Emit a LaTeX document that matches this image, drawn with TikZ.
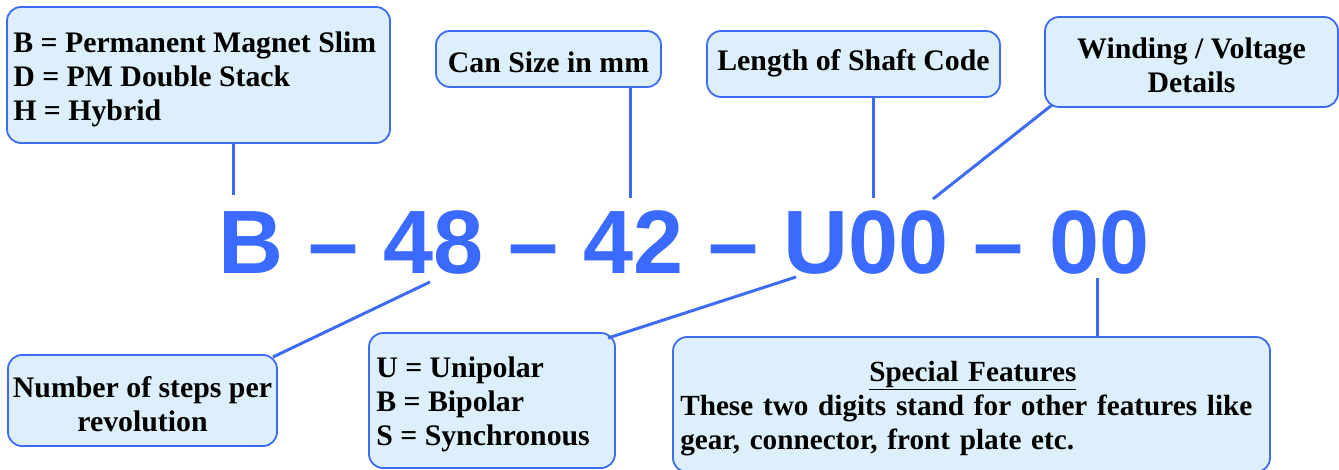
\documentclass[tikz,border=0pt]{standalone}
\usepackage{fontspec}
\setmainfont{Liberation Serif}
\newfontfamily\bigfont{Liberation Sans}
\definecolor{mblue}{HTML}{3A6AFF}
\definecolor{lineblue}{HTML}{3D6CF2}
\definecolor{boxfill}{HTML}{DDEFFA}
\begin{document}
\begin{tikzpicture}[x=1pt,y=-1pt,
  box/.style={draw=lineblue, line width=1.8pt, fill=boxfill, rounded corners=14pt, inner sep=0pt},
  txt/.style={inner sep=0pt, font=\fontsize{29.8}{34}\selectfont\bfseries},
  conn/.style={draw=lineblue, line width=3pt},
  big/.style={font=\bigfont\fontsize{90}{100}\selectfont\bfseries, text=mblue, inner sep=0pt}]
\useasboundingbox (0,0) rectangle (1339,470);
% boxes
\node[box, minimum width=383, minimum height=136] (b1) at (198.5,75) {};
\node[box, minimum width=225, minimum height=56] (b2) at (548.5,59) {};
\node[box, minimum width=293, minimum height=66] (b3) at (853.5,64) {};
\node[box, minimum width=293, minimum height=90] (b4) at (1191.5,62) {};
\node[box, minimum width=269, minimum height=91] (b5) at (142.5,400.5) {};
\node[box, minimum width=246, minimum height=135] (b6) at (492,400.5) {};
\node[box, minimum width=597, minimum height=135] (b7) at (971.5,404.5) {};
% texts
\node[txt, align=left, anchor=west] (t1) at ([xshift=7pt,yshift=-4pt]b1.west) {B = Permanent Magnet Slim\\D = PM Double Stack\\H = Hybrid};
\node[txt, align=center] (t2) at ([yshift=-3pt]b2.center) {Can Size in mm};
\node[txt, align=center] (t3) at ([yshift=1pt]b3.center) {Length of Shaft Code};
\node[txt, align=center] (t4) at ([yshift=-3pt]b4.center) {Winding / Voltage\\Details};
\node[txt, align=center] (t5) at ([yshift=-4pt]b5.center) {Number of steps per\\revolution};
\node[txt, align=left, anchor=west] (t6) at ([xshift=8pt,yshift=-4pt]b6.west) {U = Unipolar\\B = Bipolar\\S = Synchronous};
\node[txt, font=\fontsize{29.2}{34}\selectfont\bfseries, text width=585pt, align=left, anchor=west] (t7) at ([xshift=8pt,yshift=-4pt]b7.west) {\makebox[\linewidth]{\underline{Special Features}}\\These two digits stand for other features like\\gear, connector, front plate etc.};
% big code
\node[big, anchor=base] (code) at (684,274) {B – 48 – 42 – U00 – 00};
% connector ends
\coordinate (e1) at (233,195);
\coordinate (e2) at (630,198);
\coordinate (e3) at (873,198);
\coordinate (e4) at (933,199);
\coordinate (s4) at (1052,105);
\coordinate (e5) at (430,282);
\coordinate (s5) at (273,357);
\coordinate (e6) at (796,277);
\coordinate (s6) at (608,338);
\coordinate (e7) at (1097,278);
\draw[conn] (e1 |- b1.south) -- (e1);
\draw[conn] (e2 |- b2.south) -- (e2);
\draw[conn] (e3 |- b3.south) -- (e3);
\draw[conn] (s4) -- (e4);
\draw[conn] (s5) -- (e5);
\draw[conn] (s6) -- (e6);
\draw[conn] (e7 |- b7.north) -- (e7);
\end{tikzpicture}
\end{document}
